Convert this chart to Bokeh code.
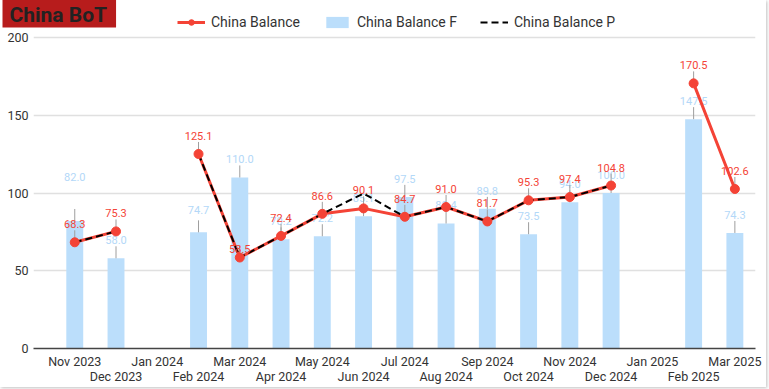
import math
from bokeh.plotting import figure
from bokeh.models import (ColumnDataSource, LinearAxis, FixedTicker, Range1d,
                          Legend, LegendItem, Title)
from bokeh.core.properties import value
from bokeh.embed import file_html
from bokeh.resources import INLINE

# ---------------- data ----------------
months = ["Nov 2023", "Dec 2023", "Jan 2024", "Feb 2024", "Mar 2024", "Apr 2024",
          "May 2024", "Jun 2024", "Jul 2024", "Aug 2024", "Sep 2024", "Oct 2024",
          "Nov 2024", "Dec 2024", "Jan 2025", "Feb 2025", "Mar 2025"]
china_balance = [68.3, 75.3, None, 125.1, 58.5, 72.4, 86.6, 90.1, 84.7, 91.0,
                 81.7, 95.3, 97.4, 104.8, None, 170.5, 102.6]
china_balance_f = [82.0, 58.0, None, 74.7, 110.0, 70.2, 72.2, 85.1, 97.5, 80.4,
                   89.8, 73.5, 94.0, 100.0, None, 147.5, 74.3]
china_balance_p = [68.3, 75.3, None, 125.1, 58.5, 72.4, 86.6, 99.7, 84.7, 91.0,
                   81.7, 95.3, 97.4, 104.8, None, None, None]
y_ticks = [0, 50, 100, 150, 200]

# label layout tweaks (pixels, extra vertical shift of a few moved labels)
balance_label_shift = {4: 9}
f_label_shift = {0: -26, 3: -4}

# ---------------- layout / styles ----------------
FONT = "Roboto"
RED = "#F44336"
BLUE = "#BBDEFB"
BLUE_TXT = "#B3D8F8"
W, H = 766, 387
FRAME_TOP, GRID_TOP, FRAME_BOTTOM = 14, 37, 348     # pixels from the top
MB_LEFT, MB_RIGHT = 33, 11
Y_MAX = 200
Y_TOP = Y_MAX * (FRAME_BOTTOM - FRAME_TOP) / (FRAME_BOTTOM - GRID_TOP)
PX_PER_UNIT = (FRAME_BOTTOM - GRID_TOP) / Y_MAX
LABEL_DY = -18
LEAD = 12 / PX_PER_UNIT

x = list(range(len(months)))
nan = float("nan")


def clean(v):
    return [nan if a is None else a for a in v]


src = ColumnDataSource(dict(x=x, b=clean(china_balance), f=clean(china_balance_f),
                            p=clean(china_balance_p)))

bx = [i for i, v in enumerate(china_balance) if v is not None]
b_lab = ColumnDataSource(dict(
    x=bx, y=[china_balance[i] for i in bx],
    y1=[china_balance[i] + LEAD for i in bx],
    t=["%.1f" % china_balance[i] for i in bx],
    dy=[LABEL_DY + balance_label_shift.get(i, 0) for i in bx]))
fx = [i for i, v in enumerate(china_balance_f) if v is not None]
f_lab = ColumnDataSource(dict(
    x=fx, y=[china_balance_f[i] for i in fx],
    y1=[china_balance_f[i] + LEAD for i in fx],
    t=["%.1f" % china_balance_f[i] for i in fx],
    dy=[LABEL_DY + f_label_shift.get(i, 0) for i in fx]))

p = figure(width=W, height=H, x_range=Range1d(-1, 16.5), y_range=Range1d(0, Y_TOP),
           output_backend="svg", toolbar_location=None,
           min_border_left=MB_LEFT, min_border_right=MB_RIGHT,
           min_border_top=FRAME_TOP, min_border_bottom=H - FRAME_BOTTOM)
p.outline_line_color = None
p.background_fill_color = "white"
p.border_fill_color = "white"
p.styles = {"box-shadow": "1px 1px 3px rgba(0,0,0,0.25)"}

# bars
bars = p.vbar(x="x", top="f", width=0.41, source=src, fill_color=BLUE, line_color=None)
p.segment(x0="x", y0="y", x1="x", y1="y1", source=f_lab, line_color="#9e9e9e", line_width=1)
p.text(x="x", y="y", text="t", source=f_lab, y_offset="dy", text_align="center",
       text_baseline="middle", text_font=value(FONT), text_font_size="11px",
       text_color=BLUE_TXT)

# balance line
p.segment(x0="x", y0="y", x1="x", y1="y1", source=b_lab, line_color="#9e9e9e", line_width=1)
line_r = p.line(x="x", y="b", source=src, line_color=RED, line_width=3)
dash_r = p.line(x="x", y="p", source=src, line_color="black", line_width=2,
                line_dash="7 4")
pts_r = p.scatter(x="x", y="y", source=b_lab, size=9, fill_color=RED, line_color=RED)
p.text(x="x", y="y", text="t", source=b_lab, y_offset="dy", text_align="center",
       text_baseline="middle", text_font=value(FONT), text_font_size="11px",
       text_color=RED)

# axes
odd = [i for i in x if i % 2 == 0]
even = [i for i in x if i % 2 == 1]
ax1 = p.xaxis[0]
ax1.ticker = FixedTicker(ticks=odd)
ax1.major_label_overrides = {i: months[i] for i in odd}
ax2 = LinearAxis(ticker=FixedTicker(ticks=even),
                 major_label_overrides={i: months[i] for i in even})
p.add_layout(ax2, "below")
for ax in (ax1, ax2):
    ax.major_tick_line_color = None
    ax.minor_tick_line_color = None
    ax.major_tick_out = 0
    ax.major_tick_in = 0
    ax.minor_tick_out = 0
    ax.axis_label_standoff = 0
    ax.major_label_text_font = FONT
    ax.major_label_text_font_size = "12.5px"
    ax.major_label_text_color = "#333333"
ax1.axis_line_color = "#444444"
ax1.axis_line_width = 1.5
ax1.major_label_standoff = 5
ax2.axis_line_color = None
ax2.major_label_standoff = -3

yax = p.yaxis[0]
yax.ticker = FixedTicker(ticks=y_ticks)
yax.axis_line_color = None
yax.major_tick_line_color = None
yax.minor_tick_line_color = None
yax.major_tick_out = 0
yax.major_tick_in = 0
yax.axis_label_standoff = 0
yax.major_label_standoff = 5
yax.major_label_text_font = FONT
yax.major_label_text_font_size = "12.5px"
yax.major_label_text_color = "#333333"

p.xgrid.visible = False
p.ygrid.ticker = FixedTicker(ticks=y_ticks)
p.ygrid.grid_line_color = "#e0e0e0"
p.ygrid.grid_line_width = 1.5

# legend inside the (upward extended) frame
legend = Legend(items=[
    LegendItem(label="China Balance", renderers=[line_r, pts_r]),
    LegendItem(label="China Balance F", renderers=[bars]),
    LegendItem(label="China Balance P", renderers=[dash_r]),
], orientation="horizontal", location=(144, FRAME_BOTTOM - 30), glyph_width=28,
    glyph_height=14, label_height=16, label_standoff=6, spacing=23, padding=0,
    margin=0, border_line_color=None, background_fill_alpha=0,
    label_text_font=FONT, label_text_font_size="14px", label_text_color="#333333")
p.add_layout(legend, "center")

# title box (side panel, overhanging)
title = Title(text="China BoT", align="left", offset=-31, standoff=-26,
              vertical_align="bottom", text_font=FONT, text_font_size="21px",
              text_font_style="bold", text_color="#222222",
              background_fill_color="#B71C1C",
              padding=dict(left=7, right=9, top=4, bottom=1))
p.add_layout(title, "above")

open("out.html", "w").write(file_html(p, INLINE))
